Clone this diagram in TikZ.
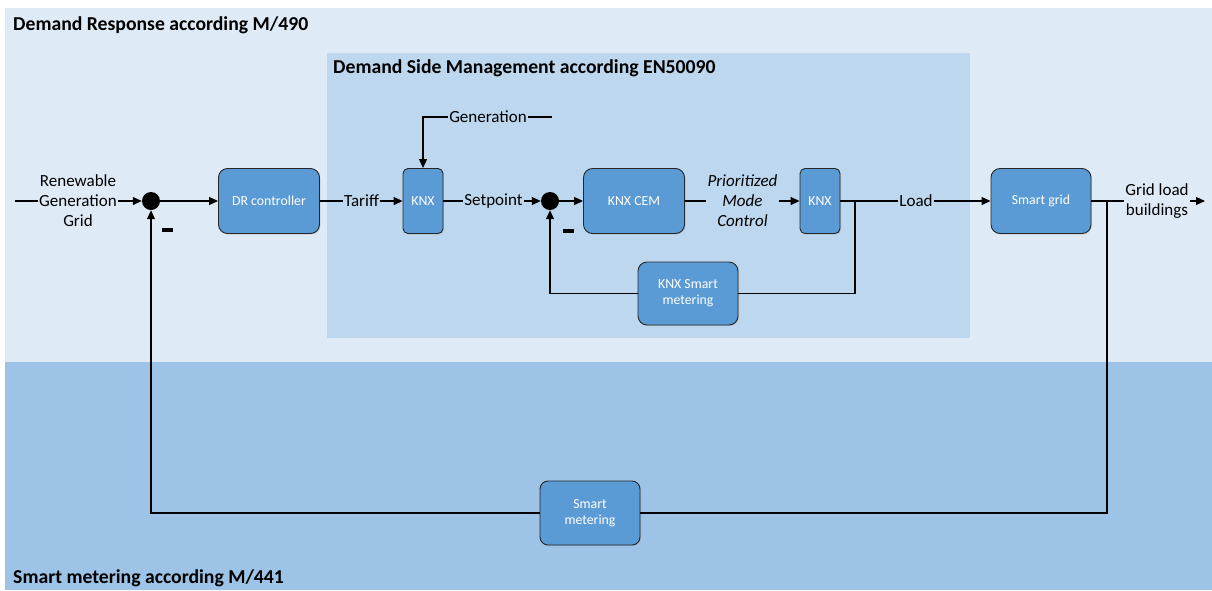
\documentclass[tikz,border=0pt]{standalone}
\usepackage{fontspec}
\setmainfont{Carlito}
\usetikzlibrary{arrows.meta,shadows}
\definecolor{bgtop}{HTML}{DEEBF7}
\definecolor{bgin}{HTML}{BDD7EE}
\definecolor{bgbot}{HTML}{9DC3E6}
\definecolor{boxfill}{HTML}{5B9BD5}
\tikzset{
 blk/.style={draw=black!85, line width=0.9pt, fill=boxfill, text=white, rounded corners=9pt,
   minimum width=101pt, minimum height=65pt, inner sep=0pt, align=center,
   font=\fontsize{13.8}{16}\selectfont,
   drop shadow={opacity=0.25,shadow xshift=1pt,shadow yshift=-1pt}},
 knxblk/.style={blk, minimum width=40pt, rounded corners=5pt},
 lbl/.style={inner sep=1pt, align=center, font=\fontsize{17}{20}\selectfont},
 sumpt/.style={circle, fill=black, minimum size=18pt, inner sep=0pt},
 wire/.style={line width=1.1pt, draw=black},
 arr/.style={wire, -{Triangle[length=9pt,width=8pt]}},
 titletext/.style={anchor=base west, inner sep=0pt, font=\fontsize{19.7}{22}\selectfont\bfseries},
 minusbar/.style={fill=black, minimum width=11pt, minimum height=4pt, inner sep=0pt},
}
\begin{document}
\begin{tikzpicture}[x=1pt,y=-1pt]
\useasboundingbox (0,0) rectangle (1212,590);
% backgrounds
\fill[white] (0,0) rectangle (1212,590);
\fill[bgtop] (5,8) rectangle (1212,362);
\fill[bgbot] (5,362) rectangle (1212,590);
\fill[bgin] (327,53) rectangle (970,338);
% titles
\node[titletext] (t1) at (13,30) {Demand Response according M/490};
\node[titletext] (t2) at (333,73.5) {Demand Side Management according EN50090};
\node[titletext] (t3) at (13,583.5) {Smart metering according M/441};
% blocks
\node[blk] (dr) at (269,201) {DR controller};
\node[knxblk] (knx1) at (423,201) {KNX};
\node[blk] (cem) at (634,201) {KNX CEM};
\node[knxblk] (knx2) at (820,201) {KNX};
\node[blk, minimum width=100pt, minimum height=63pt] (ksm) at (688,293.5) {KNX Smart\\metering};
\node[blk, minimum width=100pt] (sg) at (1041,201) {Smart grid};
\node[blk, minimum width=100pt, minimum height=64pt, rounded corners=8pt] (sm) at (590,513) {Smart\\metering};
% summing points
\node[sumpt] (sum1) at (151,201) {};
\node[sumpt] (sum2) at (550,201) {};
\node[minusbar] (m1) at (167.5,230) {};
\node[minusbar] (m2) at (568.5,231) {};
% labels
\node[lbl] (ren) at (78,201) {Renewable\\Generation\\Grid};
\node[lbl] (tariff) at (361.5,201) {Tariff};
\node[lbl] (setp) at (493.5,201) {Setpoint};
\node[lbl] (gen) at (488,117) {Generation};
\node[lbl, font=\fontsize{17}{20}\selectfont\itshape] (pmc) at (742.5,201) {Prioritized\\Mode\\Control};
\node[lbl] (load) at (916,201) {Load};
\node[lbl] (glb) at (1157,201) {Grid load\\buildings};
% free ends / branch points
\coordinate (inS) at (15,201);
\coordinate (genS) at (552,117);
\coordinate (b1) at (855,201);
\coordinate (b2) at (1107,201);
\coordinate (outE) at (1205,201);
% connectors
\draw[wire] (inS) -- (ren.west);
\draw[arr] (ren.east) -- (sum1.west);
\draw[arr] (sum1.east) -- (dr.west);
\draw[wire] (dr.east) -- (tariff.west);
\draw[arr] (tariff.east) -- (knx1.west);
\draw[wire] (genS) -- (gen.east);
\draw[arr] (gen.west) -| (knx1.north);
\draw[wire] (knx1.east) -- (setp.west);
\draw[arr] (setp.east) -- (sum2.west);
\draw[arr] (sum2.east) -- (cem.west);
\draw[wire] (cem.east) -- (pmc.west);
\draw[arr] (pmc.east) -- (knx2.west);
\draw[wire] (knx2.east) -- (load.west);
\draw[arr] (load.east) -- (sg.west);
\draw[wire] (b1) |- (ksm.east);
\draw[arr] (ksm.west) -| (sum2.south);
\draw[wire] (sg.east) -- (glb.west);
\draw[arr] (glb.east) -- (outE);
\draw[wire] (b2) |- (sm.east);
\draw[arr] (sm.west) -| (sum1.south);
\end{tikzpicture}
\end{document}
